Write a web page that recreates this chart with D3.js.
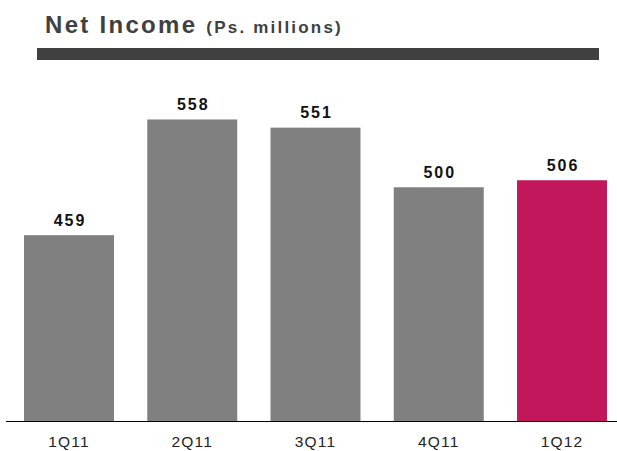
<!DOCTYPE html>
<html>
<head>
<meta charset="utf-8">
<script src="https://cdn.jsdelivr.net/npm/d3@7"></script>
<style>
  html, body { margin: 0; padding: 0; background: #fff; }
  svg { display: block; }
</style>
</head>
<body>
<svg id="chart" width="617" height="451"></svg>
<script>
// Net income by quarter, Ps. millions
const quarters = ["1Q11", "2Q11", "3Q11", "4Q11", "1Q12"];
const netIncome = [459, 558, 551, 500, 506];
const highlight = ["1Q12"];

const W = 617, H = 451;
const baseY = 421;

const svg = d3.select("#chart");

// Title
const title = svg.append("text")
  .attr("x", 45).attr("y", 33)
  .attr("fill", "#404040")
  .attr("font-family", "'Liberation Sans', Arial, sans-serif")
  .attr("font-weight", "bold");
title.append("tspan").attr("font-size", 24).attr("letter-spacing", 2.3).text("Net Income ");
title.append("tspan").attr("font-size", 17).attr("letter-spacing", 2.2).text("(Ps. millions)");

// Rule under the title
svg.append("rect")
  .attr("x", 37).attr("y", 48)
  .attr("width", 562).attr("height", 12)
  .attr("fill", "#404040");

// Scales
const x = d3.scaleBand()
  .domain(quarters)
  .range([24, 607])
  .paddingInner(0.27)
  .paddingOuter(0);

const y = d3.scaleLinear()
  .domain([300, 600])
  .range([baseY, baseY - 1.1687 * 300]);

const data = quarters.map((q, i) => ({ q, v: netIncome[i] }));

// Bars
svg.append("g").selectAll("rect")
  .data(data)
  .join("rect")
  .attr("x", d => x(d.q))
  .attr("y", d => y(d.v))
  .attr("width", x.bandwidth())
  .attr("height", d => baseY - y(d.v))
  .attr("fill", d => highlight.includes(d.q) ? "#C2185B" : "#808080");

// Value labels
svg.append("g").selectAll("text")
  .data(data)
  .join("text")
  .attr("x", d => x(d.q) + x.bandwidth() / 2 + 1)
  .attr("y", d => y(d.v) - 9.5)
  .attr("text-anchor", "middle")
  .attr("font-family", "'Liberation Sans', Arial, sans-serif")
  .attr("font-weight", "bold")
  .attr("font-size", 16)
  .attr("letter-spacing", 2)
  .attr("fill", "#111")
  .text(d => d.v);

// Category axis
const axis = d3.axisBottom(x).tickSize(0).tickPadding(15);
const gx = svg.append("g")
  .attr("transform", `translate(0,${baseY})`)
  .call(axis);
gx.select(".domain").remove();
gx.selectAll("text")
  .attr("font-family", "'Liberation Sans', Arial, sans-serif")
  .attr("font-size", 15.5)
  .attr("letter-spacing", 1.2)
  .attr("fill", "#222");

svg.append("line")
  .attr("x1", 6).attr("x2", W)
  .attr("y1", baseY + 0.5).attr("y2", baseY + 0.5)
  .attr("stroke", "#000")
  .attr("stroke-width", 1);
</script>
</body>
</html>
